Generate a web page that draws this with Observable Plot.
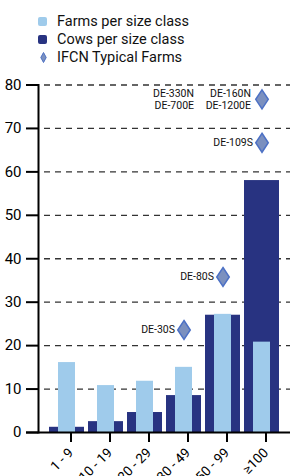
<!DOCTYPE html>
<html>
<head>
<meta charset="utf-8">
<script src="https://cdn.jsdelivr.net/npm/d3@7"></script>
<script src="https://cdn.jsdelivr.net/npm/@observablehq/plot@0.6"></script>
<style>
  html, body { margin: 0; padding: 0; background: #fff; }
  #wrap { width: 290px; font-family: Roboto, "Liberation Sans", sans-serif; }
  #legend { position: relative; height: 70px; }
  .row { position: absolute; left: 0; height: 18px; display: flex; align-items: center; font-size: 14.5px; color: #111; }
  .sw { position: absolute; }
  .lbl { position: absolute; left: 57px; white-space: nowrap; }
</style>
</head>
<body>
<div id="wrap">
  <div id="legend"></div>
  <div id="chart"></div>
</div>
<script>
const categories = ["1 - 9", "10 - 19", "20 - 29", "30 - 49", "50 - 99", "≥100"];
const farmsPerClass = [16.1, 10.8, 11.8, 15.0, 27.2, 20.8];
const cowsPerClass = [1.2, 2.5, 4.6, 8.5, 27.0, 58.0];
const typicalCategory = ["30 - 49", "50 - 99", "≥100", "≥100"];
const typicalValue = [23.6, 35.8, 66.7, 76.7];
const typicalNames = [["DE-30S"], ["DE-80S"], ["DE-109S"], ["DE-330N", "DE-700E", "DE-160N", "DE-1200E"]];
const yTicks = [0, 10, 20, 30, 40, 50, 60, 70, 80];
const legendLabels = ["Farms per size class", "Cows per size class", "IFCN Typical Farms"];

const DARK = "#283381", LIGHT = "#9fcbeb", DFILL = "#7b90bf", DSTROKE = "#4d71c5";
const FONT = "Roboto, 'Liberation Sans', sans-serif";

// legend
const legend = document.getElementById("legend");
const rowTops = [12, 30, 48];
legendLabels.forEach((t, i) => {
  const row = document.createElement("div");
  row.className = "row";
  row.style.top = rowTops[i] + "px";
  row.style.width = "290px";
  let sw;
  if (i < 2) {
    sw = `<div class="sw" style="left:38px;top:4.5px;width:9px;height:9px;border-radius:2px;background:${i === 0 ? LIGHT : DARK}"></div>`;
  } else {
    sw = `<svg class="sw" style="left:40px;top:4px" width="7" height="11"><polygon points="3.5,0.5 6.2,5.5 3.5,10.5 0.8,5.5" fill="${DFILL}" stroke="${DSTROKE}" stroke-width="1"/></svg>`;
  }
  row.innerHTML = sw + `<span class="lbl">${t}</span>`;
  legend.appendChild(row);
});

const bars = categories.map((c, i) => ({cat: c, farms: farmsPerClass[i], cows: cowsPerClass[i]}));
const typical = typicalCategory.map((c, i) => ({cat: c, v: typicalValue[i], names: typicalNames[i]}));
const single = typical.filter(d => d.names.length === 1).map(d => ({...d, label: d.names[0]}));
const multi = typical.filter(d => d.names.length > 1);
const col1 = multi.map(d => ({...d, label: d.names[0] + "\n" + d.names[1]}));
const col2 = multi.map(d => ({...d, label: d.names[2] + "\n" + d.names[3]}));

const tallDiamond = {
  draw(context, size) {
    const r = Math.sqrt(size / Math.PI);
    const w = r * 0.66;
    context.moveTo(0, -r);
    context.lineTo(w, 0);
    context.lineTo(0, r);
    context.lineTo(-w, 0);
    context.closePath();
  }
};

const chart = Plot.plot({
  width: 290,
  height: 406,
  marginTop: 14.5,
  marginBottom: 44,
  marginLeft: 38,
  marginRight: 0,
  style: {fontFamily: FONT, fontSize: "14px", color: "#000", background: "#fff"},
  x: {domain: categories, paddingInner: 0.1, paddingOuter: 0.2, label: null},
  y: {domain: [0, 80], label: null},
  marks: [
    Plot.gridY(yTicks.filter(v => v > 0), {stroke: "#333", strokeOpacity: 1, strokeWidth: 1.3, strokeDasharray: "6,5", insetLeft: 6}),
    Plot.barY(bars, {x: "cat", y: "cows", fill: DARK}),
    Plot.barY(bars, {x: "cat", y: "farms", fill: LIGHT, insetLeft: 9, insetRight: 9}),
    Plot.ruleY([0], {stroke: "#000", strokeWidth: 2, insetLeft: -12}),
    Plot.frame({anchor: "left", stroke: "#000", strokeWidth: 2}),
    Plot.axisY({ticks: yTicks, tickSize: 12, tickPadding: 5, strokeWidth: 2, fontSize: 15, label: null}),
    Plot.axisX({tickSize: 10, tickPadding: 8, dx: 4, tickRotate: -45, strokeWidth: 2, fontSize: 13.5, label: null}),
    Plot.dot(typical, {x: "cat", y: "v", symbol: tallDiamond, r: 9.5, fill: DFILL, stroke: DSTROKE, strokeWidth: 1.5}),
    Plot.text(single, {x: "cat", y: "v", text: "label", textAnchor: "end", dx: -9, fontSize: 10.5, fill: "#111"}),
    Plot.text(col2, {x: "cat", y: "v", text: "label", textAnchor: "end", dx: -11, fontSize: 10.5, lineHeight: 1.15, fill: "#111"}),
    Plot.text(col1, {x: "cat", y: "v", text: "label", textAnchor: "end", dx: -68, fontSize: 10.5, lineHeight: 1.15, fill: "#111"})
  ]
});
document.getElementById("chart").appendChild(chart);
</script>
</body>
</html>
